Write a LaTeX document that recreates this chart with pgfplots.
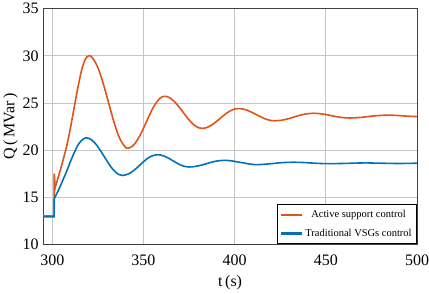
\documentclass[border=0pt]{standalone}
\usepackage{pgfplots}
\pgfplotsset{compat=1.18}
\usepackage{fontspec}
\setmainfont{Liberation Serif}
\definecolor{qorange}{RGB}{226,83,25}
\definecolor{qblue}{RGB}{0,114,189}
\begin{document}
\begin{tikzpicture}
\begin{axis}[
  scale only axis,
  width=373bp, height=235bp,
  xmin=295, xmax=500, ymin=10, ymax=35,
  xtick={300,350,400,450,500},
  ytick={10,15,20,25,30,35},
  grid=major,
  grid style={gray!45, line width=0.8pt},
  axis line style={black!75, line width=0.8pt},
  tick style={draw=none},
  ticklabel style={font=\fontsize{16}{18}\selectfont},
  xticklabel style={yshift=-7pt, inner xsep=0pt},
  yticklabel style={xshift=-1pt},
  /pgf/number format/assume math mode=true,
  xlabel={t\,(s)},
  ylabel={Q\,(\,MVar\,)},
  label style={font=\fontsize{16}{18}\selectfont},
  xlabel style={yshift=-3pt},
  ylabel style={yshift=-2pt},
  legend style={at={(1,0)}, anchor=south east, font=\fontsize{10.5}{12}\selectfont,
    draw=black, line width=0.8pt, inner xsep=3pt, inner ysep=4pt, row sep=6pt},
  legend cell align=center,
  legend image code/.code={\draw[#1] (0cm,0cm) -- (0.75cm,0cm);},
]
\addplot[qorange, line width=1.6pt, forget plot] coordinates {
(295,13) (301,13) (301.1,17.5) (301.6,16.0) (302,16.3)
};
\addplot[qorange, line width=1.6pt, smooth, tension=0.6, forget plot] coordinates {
(302,16.3) (304,17.6) (306,19.0) (308,20.5)
(310,22.4) (312,24.5) (314,26.6) (316,28.4) (318,29.6) (320,30.0)
(322,29.79) (325,28.75) (328,27.01) (331,24.92) (334,22.86) (337,21.22) (340,20.32) (341.5,20.2)
(344,20.41) (347,21.17) (350,22.31) (353,23.59) (356,24.73) (359,25.49) (361.5,25.7)
(364,25.58) (367,25.13) (370,24.45) (373,23.68) (376,22.97) (379,22.48) (382,22.3)
(385,22.41) (388,22.73) (391,23.19) (394,23.68) (397,24.09) (400,24.35) (402,24.4)
(405,24.33) (408,24.13) (411,23.85) (414,23.55) (417,23.29) (420,23.13) (422,23.1)
(426,23.17) (430,23.35) (434,23.59) (438,23.79) (443,23.9)
(447,23.85) (451,23.73) (455,23.57) (459,23.45) (463,23.4)
(467,23.43) (471,23.5) (475,23.59) (479,23.66) (484,23.7)
(488,23.68) (492,23.63) (496,23.58) (500,23.55)
};
\addplot[qblue, line width=1.6pt, forget plot] coordinates {
(295,12.9) (301,12.9) (301.1,14.8) (302,15.2)
};
\addplot[qblue, line width=1.6pt, smooth, tension=0.6, forget plot] coordinates {
(302,15.2) (304,16.0) (306,16.9) (308,17.8) (310,18.8)
(312,19.7) (314,20.5) (316,21.0) (318.5,21.3)
(321.5,21.08) (324.5,20.48) (327.5,19.61) (330.5,18.68) (333.5,17.88) (336.5,17.40) (338.5,17.3)
(342.3,17.51) (346.1,18.06) (349.9,18.74) (353.7,19.29) (357.5,19.5)
(361,19.38) (364.5,19.05) (368,18.65) (371.5,18.32) (375,18.2)
(378.8,18.27) (382.6,18.44) (386.4,18.66) (390.2,18.83) (394,18.9)
(397.8,18.86) (401.6,18.74) (405.4,18.61) (409.2,18.49) (413,18.45)
(420,18.55) (426,18.66) (432,18.7)
(438,18.67) (445,18.59) (451,18.55) (461,18.58) (471,18.63) (480,18.6) (490,18.57) (500,18.6)
};
\addlegendimage{qorange, line width=2.2pt}
\addlegendentry{Active support control}
\addlegendimage{qblue, line width=2.2pt}
\addlegendentry{Traditional VSGs control}
\end{axis}
\end{tikzpicture}
\end{document}
